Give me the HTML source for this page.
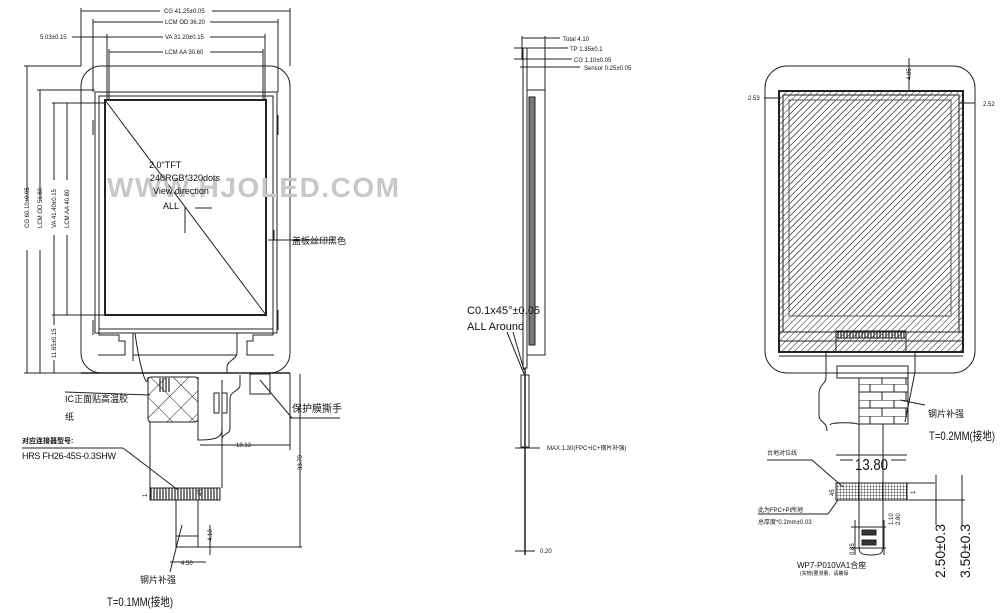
<!DOCTYPE html>
<html><head><meta charset="utf-8"><style>
html,body{margin:0;padding:0;background:#fff;}
svg{display:block;}
text{font-family:"Liberation Sans","Noto Sans CJK SC",sans-serif;fill:#111;}
</style></head><body>
<svg width="1000" height="613" viewBox="0 0 1000 613" xmlns="http://www.w3.org/2000/svg">
<defs>
<pattern id="hat" width="4.5" height="4.5" patternUnits="userSpaceOnUse" patternTransform="rotate(45)">
<line x1="0" y1="0" x2="0" y2="4.5" stroke="#222" stroke-width="1"/>
</pattern>
<pattern id="xh" width="16" height="16" patternUnits="userSpaceOnUse" patternTransform="rotate(45)">
<path d="M0 0V16M0 0H16" stroke="#222" stroke-width="1" fill="none"/>
</pattern>
<pattern id="brick" width="24" height="16" patternUnits="userSpaceOnUse">
<path d="M0 0H24M0 8H24M6 0V8M18 8V16" stroke="#222" stroke-width="1" fill="none"/>
</pattern>
<pattern id="pins" width="3" height="12" patternUnits="userSpaceOnUse">
<line x1="1" y1="0" x2="1" y2="12" stroke="#222" stroke-width="1.2"/>
</pattern>
<pattern id="grid" width="3" height="3" patternUnits="userSpaceOnUse">
<path d="M0 0H3M0 0V3" stroke="#222" stroke-width="0.8" fill="none"/>
</pattern>
</defs>
<g stroke="#222" fill="none" stroke-width="1">
<rect x="81" y="66" width="209" height="307" rx="20"/>
<line x1="81" y1="8" x2="81" y2="66"/><line x1="290" y1="8" x2="290" y2="66"/>
<line x1="81" y1="11" x2="160" y2="11"/><line x1="212" y1="11" x2="290" y2="11"/>
<line x1="93" y1="19" x2="93" y2="92"/><line x1="278" y1="19" x2="278" y2="92"/>
<line x1="93" y1="22" x2="163" y2="22"/><line x1="210" y1="22" x2="278" y2="22"/>
<line x1="107" y1="34" x2="107" y2="100"/><line x1="265" y1="34" x2="265" y2="100"/>
<line x1="72" y1="37" x2="163" y2="37"/><line x1="210" y1="37" x2="265" y2="37"/>
<line x1="109" y1="49" x2="109" y2="100"/><line x1="263" y1="49" x2="263" y2="100"/>
<line x1="109" y1="52" x2="163" y2="52"/><line x1="210" y1="52" x2="263" y2="52"/>
<line x1="24" y1="66" x2="81" y2="66"/><line x1="24" y1="373" x2="81" y2="373"/>
<line x1="27" y1="66" x2="27" y2="200"/><line x1="27" y1="250" x2="27" y2="373"/>
<line x1="37" y1="90" x2="95" y2="90"/><line x1="40" y1="90" x2="40" y2="200"/><line x1="40" y1="250" x2="40" y2="373"/>
<line x1="52" y1="103" x2="105" y2="103"/><line x1="54" y1="103" x2="54" y2="180"/><line x1="54" y1="235" x2="54" y2="315"/>
<line x1="67" y1="103" x2="67" y2="180"/><line x1="67" y1="235" x2="67" y2="315"/>
<line x1="52" y1="315" x2="105" y2="315"/><line x1="54" y1="315" x2="54" y2="325"/><line x1="54" y1="360" x2="54" y2="373"/>
<rect x="95" y="92" width="182" height="241"/>
<rect x="99" y="96" width="174" height="233"/>
<rect x="105" y="100" width="161" height="215" stroke-width="2"/>
<line x1="105" y1="100" x2="266" y2="315"/>
<line x1="185" y1="207" x2="185" y2="233"/><line x1="195" y1="208" x2="212" y2="208"/>
<path d="M99 329v6h20v6h6v14h-27M273 329v6h-20v6h-6v14h27"/>
<path d="M133 333v28M237 333v20c0 6-10 8-10 14v6"/>
<line x1="133" y1="355" x2="237" y2="355"/>
<path d="M93 120v15M278 115v20M93 320v15M278 310v20"/>
<line x1="81" y1="373" x2="290" y2="373" stroke-width="1.5"/>
<rect x="148" y="377" width="50" height="45" rx="3"/>
<rect x="148" y="377" width="50" height="45" fill="url(#xh)" stroke="none"/>
<rect x="158" y="378" width="12" height="14" fill="url(#pins)" stroke="none"/>
<path d="M135 333c4 30 12 60 13 44M198 377v45"/>
<path d="M150 422v66M222 380v50c0 8-8 10-24 10v-18M222 422v66"/>
<path d="M240 375v10c0 6-10 6-10 14v30c0 5-8 5-8 10"/>
<rect x="214" y="393" width="5" height="20"/><rect x="222" y="393" width="5" height="20"/>
<rect x="150" y="488" width="70" height="12" fill="url(#pins)"/>
<path d="M176 500v47h22v-47"/>
<line x1="176" y1="536" x2="198" y2="536"/>
<rect x="250" y="374" width="20" height="20"/>
<line x1="260" y1="380" x2="292" y2="418"/>
<line x1="290" y1="418" x2="340" y2="418"/>
<line x1="290" y1="373" x2="290" y2="450"/>
<line x1="200" y1="445" x2="290" y2="445"/>
<line x1="300" y1="374" x2="300" y2="547"/><line x1="198" y1="547" x2="302" y2="547"/>
<line x1="210" y1="525" x2="210" y2="555"/>
<line x1="170" y1="562" x2="206" y2="562"/>
<line x1="268" y1="240" x2="330" y2="240"/><line x1="274" y1="240" x2="274" y2="230"/>
<line x1="65" y1="392" x2="150" y2="395"/>
<line x1="22" y1="448" x2="123" y2="448"/><line x1="123" y1="448" x2="178" y2="490"/>
<line x1="182" y1="525" x2="170" y2="572"/>
<rect x="523" y="48" width="4" height="320"/>
<rect x="527" y="90" width="18" height="265"/>
<rect x="529" y="97" width="6" height="248" fill="#777"/>
<line x1="525" y1="368" x2="525" y2="555" stroke-width="1.5"/>
<rect x="521" y="375" width="8" height="72"/>
<line x1="515" y1="448" x2="540" y2="448"/><line x1="515" y1="551" x2="535" y2="551"/>
<line x1="522" y1="38" x2="560" y2="38"/><line x1="522" y1="36" x2="522" y2="60"/><line x1="545" y1="36" x2="545" y2="90"/>
<line x1="514" y1="48" x2="568" y2="48"/><line x1="514" y1="59" x2="572" y2="59"/><line x1="520" y1="67" x2="580" y2="67"/>
<path d="M507 332l17 42M513 332l11 38"/>
<rect x="765" y="66" width="210" height="307" rx="22"/>
<rect x="779" y="91" width="184" height="261" stroke-width="2"/>
<rect x="779" y="91" width="184" height="261" fill="url(#hat)" stroke="none"/>
<rect x="783" y="95" width="176" height="237"/>
<rect x="789" y="100" width="162" height="216" fill="url(#hat)" stroke="#555"/>
<line x1="779" y1="332" x2="963" y2="332"/><line x1="779" y1="341" x2="963" y2="341"/>
<rect x="836" y="331" width="70" height="7" fill="url(#pins)"/>
<path d="M836 338v14M906 338v14M779 356h184"/>
<path d="M826 352v25c0 8-7 6-7 18v20c0 8 8 6 8 16M915 352v20l-10 50"/>
<rect x="837" y="366" width="71" height="12"/>
<rect x="859" y="378" width="49" height="46" fill="url(#brick)"/>
<path d="M859 424v123c0 6 2 8 12 8s12-2 12-8v-123M830 425c0-3 29-3 29 0M836 455h71"/>
<rect x="836" y="483" width="71" height="17" fill="url(#grid)"/>
<line x1="907" y1="483" x2="935" y2="483"/><line x1="907" y1="500" x2="965" y2="500"/>
<line x1="936" y1="475" x2="936" y2="525"/><line x1="962" y1="475" x2="962" y2="525"/>
<line x1="840" y1="460" x2="853" y2="460"/><line x1="891" y1="460" x2="906" y2="460"/>
<line x1="767" y1="460" x2="812" y2="460"/><line x1="812" y1="460" x2="843" y2="487"/>
<line x1="758" y1="514" x2="828" y2="514"/><line x1="828" y1="514" x2="838" y2="500"/>
<line x1="900" y1="400" x2="925" y2="405"/>
<rect x="862" y="530" width="14" height="5" fill="#333"/><rect x="862" y="540" width="14" height="5" fill="#333"/>
<path d="M851 527h35M851 548h35M855 520v35M884 520v35"/>
<line x1="781" y1="98" x2="764" y2="98"/><line x1="959" y1="103" x2="975" y2="103"/>
<line x1="909" y1="58" x2="909" y2="90"/>
</g>
<text x="107" y="197" font-size="28" font-weight="bold" style="fill:#c8c8c8" textLength="292">WWW.HJOLED.COM</text>
<g font-size="6">
<text x="164" y="13">CG 41.25±0.05</text>
<text x="165" y="24">LCM OD 36.20</text>
<text x="40" y="39">5.03±0.15</text>
<text x="165" y="39">VA 31.20±0.15</text>
<text x="165" y="54">LCM AA 30.60</text>
<text transform="translate(29,228) rotate(-90)">CG 60.10±0.05</text>
<text transform="translate(42,228) rotate(-90)">LCM OD 51.60</text>
<text transform="translate(56,228) rotate(-90)">VA 41.40±0.15</text>
<text transform="translate(69,228) rotate(-90)">LCM AA 40.80</text>
<text transform="translate(56,358) rotate(-90)">11.65±0.15</text>
<text x="236" y="447">18.13</text>
<text transform="translate(302,470) rotate(-90)">33.79</text>
<text transform="translate(202,496) rotate(-90)">45</text>
<text transform="translate(147,497) rotate(-90)">1</text>
<text transform="translate(212,541) rotate(-90)">4.10</text>
<text x="181" y="565">4.50</text>
<text x="563" y="41">Total 4.10</text>
<text x="570" y="51">TP 1.35±0.1</text>
<text x="574" y="62">CG 1.10±0.05</text>
<text x="584" y="70">Sensor 0.25±0.05</text>
<text x="547" y="450">MAX 1.30(FPC+IC+钢片补强)</text>
<text x="540" y="553">0.20</text>
<text x="748" y="100">2.53</text>
<text x="983" y="106">2.52</text>
<text transform="translate(911,80) rotate(-90)">4.85</text>
<text transform="translate(834,496) rotate(-90)">45</text>
<text transform="translate(915,494) rotate(-90)">1</text>
<text x="767" y="455">台地对位线</text>
<text x="758" y="512">此为FPC+PI所地</text>
<text x="758" y="524">总厚度*0.2mm±0.03</text>
<text transform="translate(893,525) rotate(-90)">1.10</text>
<text transform="translate(900,525) rotate(-90)">2.80</text>
<text transform="translate(854,555) rotate(-90)">0.85</text>
<text x="800" y="575" font-size="5">(实物)要测量、请确保</text>
</g>
<g font-size="9">
<text x="149" y="168">2.0"TFT</text>
<text x="150" y="181">240RGB*320dots</text>
<text x="153" y="194">View direction</text>
<text x="163" y="209">ALL</text>
<text x="292" y="244">盖板丝印黑色</text>
<text x="65" y="402">IC正面贴高温胶</text>
<text x="65" y="420">纸</text>
<text x="292" y="412" font-size="10">保护膜撕手</text>
<text x="22" y="443" font-size="7" font-weight="bold">对应连接器型号:</text>
<text x="22" y="459" textLength="94">HRS FH26-45S-0.3SHW</text>
<text x="140" y="583">钢片补强</text>
<text x="107" y="606" font-size="12" textLength="66" lengthAdjust="spacingAndGlyphs">T=0.1MM(接地)</text>
<text x="467" y="314" font-size="11" textLength="73" lengthAdjust="spacingAndGlyphs">C0.1x45°±0.05</text>
<text x="467" y="330" font-size="11">ALL Around</text>
<text x="928" y="417">钢片补强</text>
<text x="929" y="440" font-size="12" textLength="66" lengthAdjust="spacingAndGlyphs">T=0.2MM(接地)</text>
<text x="855" y="470" font-size="16" textLength="33" lengthAdjust="spacingAndGlyphs">13.80</text>
<text x="797" y="568" font-size="8">WP7-P010VA1合座</text>
<text transform="translate(945,578) rotate(-90)" font-size="14" textLength="54" lengthAdjust="spacingAndGlyphs">2.50±0.3</text>
<text transform="translate(970,578) rotate(-90)" font-size="14" textLength="54" lengthAdjust="spacingAndGlyphs">3.50±0.3</text>
</g>
</svg>
</body></html>
